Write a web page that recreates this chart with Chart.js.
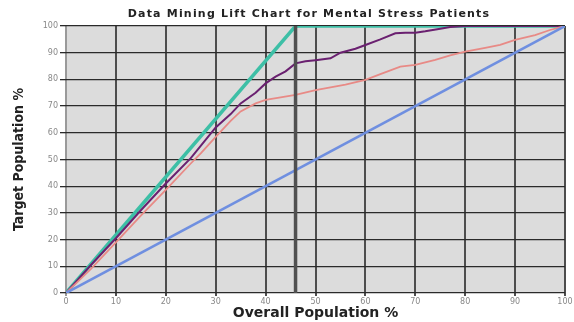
<!DOCTYPE html>
<html>
<head>
<meta charset="utf-8">
<script src="https://cdn.jsdelivr.net/npm/chart.js@4.4.1/dist/chart.umd.min.js"></script>
<style>
html,body{margin:0;padding:0;background:#fff;}
#wrap{width:574px;height:322px;position:relative;}
</style>
</head>
<body>
<div id="wrap"><canvas id="c" width="574" height="322"></canvas></div>
<script>
const chartTitle = "Data Mining Lift Chart for Mental Stress Patients";
const xAxisTitle = "Overall Population %";
const yAxisTitle = "Target Population %";

const randomX = [0, 100];
const randomY = [0, 100];

const idealX = [0, 46, 100];
const idealY = [0, 100, 100];

const dropX = [46, 46];
const dropY = [0, 100];

const modelAX = [0, 5, 10, 15, 20, 25, 30, 33, 35, 38, 40, 42, 44, 46, 48, 50, 53, 55, 58, 60, 63, 66, 68, 70, 72, 75, 77, 80, 85, 100];
const modelAY = [0, 10.5, 20.5, 31, 41, 50.5, 62, 67, 71, 75, 78.5, 81, 83, 86, 86.8, 87.2, 87.9, 90, 91.5, 92.9, 95, 97.3, 97.5, 97.5, 98, 99, 99.6, 100, 100, 100];

const modelBX = [0, 5, 10, 15, 20, 25, 27, 30, 33, 35, 38, 40, 43, 46, 50, 53, 56, 60, 63, 67, 70, 74, 77, 80, 84, 87, 90, 94, 97, 100];
const modelBY = [0, 9, 19, 29, 38.6, 48.5, 52.3, 58.5, 64.5, 68, 71, 72.3, 73.3, 74.2, 76, 77, 78, 79.8, 82, 84.8, 85.4, 87.3, 89, 90.4, 91.8, 92.9, 94.8, 96.6, 98.5, 100];

const tickValues = [0, 10, 20, 30, 40, 50, 60, 70, 80, 90, 100];

function pts(xs, ys) { return xs.map((x, i) => ({x: x, y: ys[i]})); }

const bgPlugin = {
  id: 'plotBg',
  beforeDraw(chart) {
    const a = chart.chartArea, ctx = chart.ctx;
    ctx.save();
    ctx.fillStyle = '#dcdcdc';
    ctx.fillRect(a.left, a.top, a.right - a.left, a.bottom - a.top);
    ctx.restore();
  }
};

const titlePlugin = {
  id: 'offsetTitle',
  afterDraw(chart) {
    const ctx = chart.ctx;
    ctx.save();
    ctx.font = 'bold 11px "DejaVu Sans"';
    if ('letterSpacing' in ctx) ctx.letterSpacing = '1.2px';
    ctx.fillStyle = '#222';
    ctx.textAlign = 'center';
    ctx.textBaseline = 'middle';
    ctx.fillText(chartTitle, 309, 14);
    ctx.restore();
  }
};

new Chart(document.getElementById('c'), {
  type: 'scatter',
  data: {
    datasets: [
      {data: pts(dropX, dropY), showLine: true, borderColor: '#505050', borderWidth: 3.5, pointRadius: 0},
      {data: pts(randomX, randomY), showLine: true, borderColor: '#6f8fe0', borderWidth: 2.5, pointRadius: 0},
      {data: pts(modelBX, modelBY), showLine: true, borderColor: '#e88a86', borderWidth: 1.8, pointRadius: 0},
      {data: pts(modelAX, modelAY), showLine: true, borderColor: '#6a2070', borderWidth: 2, pointRadius: 0},
      {data: pts(idealX, idealY), showLine: true, borderColor: '#3dbfa6', borderWidth: 3.5, pointRadius: 0}
    ]
  },
  options: {
    responsive: false,
    animation: false,
    devicePixelRatio: 1,
    layout: {padding: {left: 0, right: 9, top: 26, bottom: 0}},
    plugins: {
      legend: {display: false},
      tooltip: {enabled: false},
      title: {display: false}
    },
    scales: {
      x: {
        type: 'linear', min: 0, max: 100,
        afterFit(s) { s.height = 29; },
        afterBuildTicks(s) { s.ticks = tickValues.map(v => ({value: v})); },
        ticks: {color: '#888', font: {family: 'DejaVu Sans', size: 8}, padding: 1, maxRotation: 0},
        grid: {color: (c) => c.tick && c.tick.value === 0 ? '#9a9a9a' : '#4d4d4d', lineWidth: 2, tickLength: 3, drawOnChartArea: true},
        border: {display: false},
        title: {display: true, text: xAxisTitle, color: '#222', font: {family: 'DejaVu Sans', size: 14, weight: 'bold'}, padding: {top: 0, bottom: 0}}
      },
      y: {
        type: 'linear', min: 0, max: 100,
        afterFit(s) { s.width = 66; },
        afterBuildTicks(s) { s.ticks = tickValues.map(v => ({value: v})); },
        ticks: {color: '#888', font: {family: 'DejaVu Sans', size: 8}, padding: 2},
        grid: {color: '#2a2a2a', lineWidth: 1.3, tickLength: 6},
        border: {display: false},
        title: {display: true, text: yAxisTitle, color: '#222', font: {family: 'DejaVu Sans Condensed', size: 14, weight: 'bold'}, padding: {top: 11, bottom: 0}}
      }
    }
  },
  plugins: [bgPlugin, titlePlugin]
});
</script>
</body>
</html>
